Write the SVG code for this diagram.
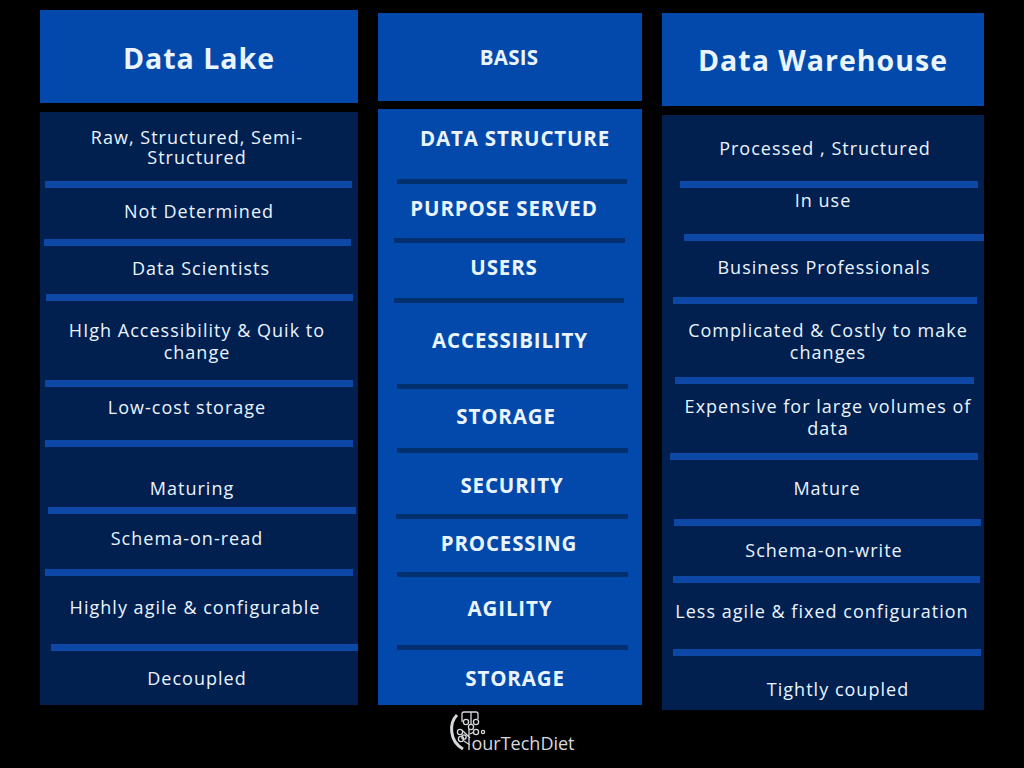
<svg xmlns="http://www.w3.org/2000/svg" width="1024" height="768" viewBox="0 0 1024 768">
<style>
.hd{fill:#0249ab}.dk{fill:#01204f}.bar{fill:#0e48a6}.mbar{fill:#02306f}
text{font-family:"Open Sans","Liberation Sans",sans-serif;fill:#eaf4ff;text-anchor:middle}
.t{font-size:18px;letter-spacing:1.02px}
.m{font-size:20.5px;font-weight:700;letter-spacing:.85px}
.h{font-size:28.5px;font-weight:700;letter-spacing:1px}
.lg{fill:none;stroke:#d6d9dc;stroke-width:1.3}
</style>
<rect width="1024" height="768" fill="#000"/>
<g id="data-lake">
<rect class="hd" x="40" y="10" width="318" height="93"/>
<text class="h" x="199" y="69">Data Lake</text>
<rect class="dk" x="40" y="112" width="318" height="593"/>
<text class="t" x="197" y="144">Raw, Structured, Semi-</text>
<text class="t" x="197" y="164">Structured</text>
<text class="t" x="199" y="218">Not Determined</text>
<text class="t" x="201" y="275">Data Scientists</text>
<text class="t" x="197" y="337">HIgh Accessibility &amp; Quik to</text>
<text class="t" x="197" y="359">change</text>
<text class="t" x="187" y="414">Low-cost storage</text>
<text class="t" x="192" y="495">Maturing</text>
<text class="t" x="187" y="545">Schema-on-read</text>
<text class="t" x="195" y="614">Highly agile &amp; configurable</text>
<text class="t" x="197" y="685">Decoupled</text>
</g>
<g id="basis">
<rect class="hd" x="378" y="13" width="264" height="88"/>
<text x="509" y="65" font-size="20.5" font-weight="700" letter-spacing=".2">BASIS</text>
<rect class="hd" x="378" y="109" width="264" height="596"/>
<text class="m" x="515" y="146">DATA STRUCTURE</text>
<text class="m" x="504" y="216">PURPOSE SERVED</text>
<text class="m" x="504" y="275">USERS</text>
<text class="m" x="510" y="348">ACCESSIBILITY</text>
<text class="m" x="506" y="424">STORAGE</text>
<text class="m" x="512" y="493">SECURITY</text>
<text class="m" x="509" y="551">PROCESSING</text>
<text class="m" x="510" y="616">AGILITY</text>
<text class="m" x="515" y="686">STORAGE</text>
</g>
<g id="data-warehouse">
<rect class="hd" x="662" y="13" width="322" height="93"/>
<text class="h" x="823" y="71">Data Warehouse</text>
<rect class="dk" x="662" y="115" width="322" height="595"/>
<text class="t" x="825" y="155">Processed , Structured</text>
<text class="t" x="823" y="207">In use</text>
<text class="t" x="824" y="274">Business Professionals</text>
<text class="t" x="828" y="337">Complicated &amp; Costly to make</text>
<text class="t" x="828" y="359">changes</text>
<text class="t" x="828" y="413">Expensive for large volumes of</text>
<text class="t" x="828" y="435">data</text>
<text class="t" x="827" y="495">Mature</text>
<text class="t" x="824" y="557">Schema-on-write</text>
<text class="t" x="822" y="618">Less agile &amp; fixed configuration</text>
<text class="t" x="838" y="696">Tightly coupled</text>
</g>
<g id="connectors">
<rect class="bar" x="45" y="181" width="307" height="7"/>
<rect class="bar" x="44" y="239" width="307" height="7"/>
<rect class="bar" x="46" y="294" width="307" height="7"/>
<rect class="bar" x="45" y="380" width="308" height="7"/>
<rect class="bar" x="45" y="440" width="308" height="7"/>
<rect class="bar" x="48" y="507" width="308" height="7"/>
<rect class="bar" x="45" y="569" width="308" height="7"/>
<rect class="bar" x="51" y="644" width="307" height="7"/>
<rect class="mbar" x="397" y="179" width="230" height="5"/>
<rect class="mbar" x="394" y="238" width="231" height="5"/>
<rect class="mbar" x="394" y="298" width="230" height="5"/>
<rect class="mbar" x="397" y="384" width="231" height="5"/>
<rect class="mbar" x="397" y="448" width="231" height="5"/>
<rect class="mbar" x="396" y="514" width="232" height="5"/>
<rect class="mbar" x="397" y="572" width="231" height="5"/>
<rect class="mbar" x="397" y="645" width="231" height="5"/>
<rect class="bar" x="680" y="181" width="298" height="7"/>
<rect class="bar" x="684" y="234" width="300" height="7"/>
<rect class="bar" x="673" y="297" width="304" height="7"/>
<rect class="bar" x="675" y="377" width="299" height="7"/>
<rect class="bar" x="670" y="453" width="308" height="7"/>
<rect class="bar" x="674" y="519" width="307" height="7"/>
<rect class="bar" x="673" y="576" width="307" height="7"/>
<rect class="bar" x="673" y="649" width="308" height="7"/>
</g>
<g id="logo">
<path class="lg" style="stroke-width:3" d="M457 715C449 723 449 741 463 749"/>
<path class="lg" d="M469 750V729M462 722V714Q462 712 464 712H476Q478 712 478 714V719M471 712V724M470 738L463 731M470 745L464 741M470 734L474 732"/>
<circle class="lg" cx="466" cy="722" r="2.600"/><circle class="lg" cx="476" cy="722" r="2.600"/>
<circle class="lg" cx="471" cy="727" r="2.600"/><circle class="lg" cx="460" cy="732" r="2.600"/>
<circle class="lg" cx="464" cy="737" r="2.200"/><circle class="lg" cx="461" cy="739" r="2.600"/>
<circle class="lg" cx="476" cy="732" r="2.600"/><circle class="lg" cx="483" cy="732" r="1.600"/>
<text x="523" y="750" font-size="18" style="fill:#d6d9dc">ourTechDiet</text>
</g>
</svg>
